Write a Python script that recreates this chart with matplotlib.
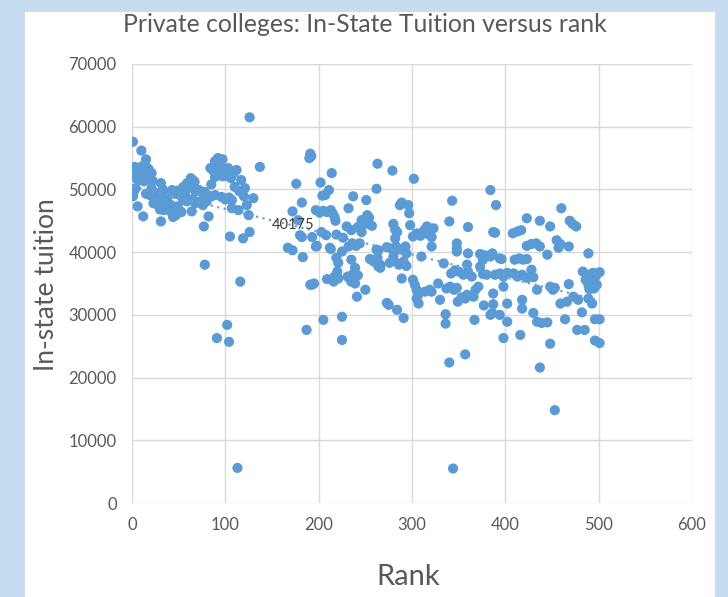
import numpy as np
import matplotlib.pyplot as plt
from matplotlib.patches import Rectangle

plt.rcParams['font.family'] = ['Lato', 'DejaVu Sans']

# Private colleges: rank vs in-state tuition
rank = [
    # rank 0-70
    1, 10, 15, 3, 7, 11, 14, 18, 21, 5, 9, 16, 5, 9, 13, 17, 22, 31,
    21, 1, 2, 4, 1, 15, 19, 24, 28, 30, 39, 43, 46, 49, 55, 59, 63, 66, 60,
    23, 27, 31, 35, 42, 45, 49, 55, 59, 63, 67, 6, 30, 34, 37,
    42, 46, 50, 53, 64, 12, 31, 44, 47, 26, 33, 38, 52, 57, 69,
    # rank 67-140
    89, 92, 95, 97, 84, 87, 90, 94, 99, 103, 112, 137, 89, 93, 97, 101,
    117, 121, 67, 85, 68, 72, 76, 78, 81, 85, 89, 96, 100, 104, 107, 130,
    68, 72, 76, 80, 107, 114, 125, 82, 77, 105, 119, 126, 78, 116,
    91, 102, 104, 113, 126, 106, 110, 115, 120, 123, 109,
    # rank 160-245
    176, 172, 178, 182, 180, 167, 172, 183, 191, 192, 190,
    191, 195, 187, 205, 209, 197, 202, 211, 207, 204, 214,
    197, 201, 205, 209, 213, 215, 217, 218, 203, 208, 213, 219,
    212, 198, 182, 193, 220, 221, 219, 217, 221, 216, 193, 225, 225, 226, 225,
    232, 230, 235, 232, 236, 240, 244, 237, 231, 236, 242, 235, 239, 234, 241,
    235, 239,
    # rank 240-300
    251, 263, 279, 262, 252, 242, 246, 250, 254, 257, 246, 262, 264,
    255, 259, 263, 266, 264, 266, 250, 280, 282, 284, 282,
    273, 278, 283, 287, 293, 280, 276, 281, 286, 291, 294,
    287, 289, 296, 297, 302, 289, 273, 275, 284, 291, 294, 298,
    # rank 300-405
    301, 305, 309, 313, 317, 321, 323, 316, 310, 321,
    301, 303, 305, 307, 314, 319, 321, 305, 307, 328, 330,
    334, 340, 343, 348, 348, 348, 342, 346, 350, 355, 360, 364,
    337, 341, 345, 348, 349, 353, 357, 359, 366, 368, 371,
    336, 336, 357, 340, 344, 359, 360, 360, 367,
    373, 378, 384, 386, 373, 376, 380, 376, 384, 390, 389, 387,
    389, 394, 398, 402, 394, 396, 377, 387, 386, 384, 394, 387,
    398, 398, 402, 402,
    # rank 405-502
    408, 413, 417, 423, 437, 448, 460, 469, 472, 476,
    423, 428, 433, 437, 455, 457, 459, 468, 445, 489,
    410, 415, 419, 423, 409, 413, 418, 423, 428, 430,
    434, 448, 451, 453, 468, 483, 488, 494, 497, 501,
    486, 489, 492, 495, 498, 490, 489, 493, 473, 478, 459, 466,
    418, 418, 430, 434, 439, 445, 464, 482, 496, 501,
    477, 485, 416, 448, 496, 501, 437, 453,
]

tuition = [
    # rank 0-70
    57600, 56200, 54800, 53600, 53300, 53700, 52800, 53200, 52600, 52500, 52900, 53500, 51700, 51500, 51300, 51800, 51400, 51000,
    50200, 50000, 49700, 50200, 48900, 49300, 49100, 49000, 49400, 49200, 49500, 49900, 49300, 49800, 50400, 51000, 51800, 51400, 50200,
    47800, 47600, 48100, 47700, 47500, 47000, 47300, 48300, 48100, 48400, 48200, 47300, 46800, 46700, 46900,
    46400, 46300, 46500, 46400, 46500, 45700, 44900, 45600, 45900, 48600, 50000, 48700, 49000, 49600, 49900,
    # rank 67-140
    54500, 55000, 54400, 54800, 53400, 53000, 53600, 53200, 52900, 53400, 53100, 53600, 52000, 52300, 52100, 52200,
    51500, 50200, 51200, 50800, 49700, 49900, 49300, 49600, 49000, 48900, 49100, 48800, 48400, 48700, 48300, 48600,
    47800, 48000, 47500, 48100, 47000, 46700, 45900, 45700, 44100, 42500, 42200, 43200, 38000, 35300,
    26300, 28400, 25700, 5600, 61500, 51800, 50400, 49700, 48900, 47500, 52600,
    # rank 160-245
    50900, 46500, 45100, 47900, 42700, 40700, 40300, 39200, 55700, 55300, 55000,
    34800, 35000, 27600, 29200, 35700, 40900, 51100, 49900, 49100, 49000, 52600,
    46700, 46300, 46600, 46400, 46700, 46200, 45600, 45000, 43200, 42700, 40500, 42800,
    40700, 41000, 42400, 42400, 36900, 38300, 39100, 36100, 35800, 35300, 34800, 29700, 26000, 42300, 40100,
    47000, 44100, 43500, 40900, 41400, 41000, 41400, 48900, 36100, 36400, 36300, 35300, 35000, 35600, 32900,
    38800, 37500,
    # rank 240-300
    48300, 54100, 53000, 50100, 45900, 44000, 45100, 44500, 45500, 44200, 43200, 40400, 40300,
    38900, 38500, 39100, 38000, 37700, 37500, 34000, 44500, 43600, 43200, 42200,
    40800, 40600, 40900, 40400, 40900, 39300, 38300, 38600, 38000, 38500, 37800,
    47500, 47900, 47500, 46200, 51700, 35800, 31900, 31600, 30800, 29500, 39800, 44300,
    # rank 300-405
    42500, 43000, 42600, 43500, 42900, 42400, 43800, 44100, 39300, 40900,
    35600, 34800, 34000, 33300, 33700, 34000, 33700, 32600, 31800, 35000, 32400,
    38200, 44900, 48200, 41400, 40600, 40100, 36600, 37100, 36900, 36400, 36900, 36100,
    34200, 34500, 34000, 34300, 32100, 32800, 32600, 33200, 32900, 34000, 34500,
    30100, 28600, 23700, 22400, 5500, 38000, 39800, 44000, 29200,
    39700, 39500, 39300, 39800, 37700, 36500, 36400, 38800, 49900, 47500, 43100, 43200,
    36400, 36600, 36100, 36700, 39000, 38900, 31500, 31700, 30300, 30000, 30000, 33400,
    34500, 26300, 31800, 28900,
    # rank 405-502
    43000, 43300, 43500, 45400, 45000, 44100, 47000, 45000, 44500, 44100,
    41000, 41300, 41400, 40900, 41900, 40700, 41300, 40900, 39600, 39800,
    38800, 39000, 38800, 38900, 36600, 36100, 36400, 35900, 37200, 36000,
    34000, 34500, 34000, 34300, 34900, 36900, 36400, 36700, 36200, 36800,
    35600, 34800, 35200, 34200, 34800, 34100, 32600, 31800, 32900, 32400, 31800, 32100,
    32400, 31000, 30300, 28900, 28700, 28800, 29300, 30400, 29300, 29300,
    27600, 27600, 26800, 25400, 25900, 25500, 21600, 14800,
]

x_ticks = [0, 100, 200, 300, 400, 500, 600]
y_ticks = [0, 10000, 20000, 30000, 40000, 50000, 60000, 70000]
trend_label = "40175"

BLUE = '#5b9bd5'
GREY = '#595959'

fig = plt.figure(figsize=(7.28, 5.97), dpi=100)
fig.patch.set_facecolor('#c6ddf1')
# white chart panel on top of the blue slide background
fig.patches.append(Rectangle((25 / 728, -0.05), 690 / 728, 1.05 - 12 / 597,
                             transform=fig.transFigure, facecolor='white',
                             edgecolor='none', zorder=-10))

ax = fig.add_axes([132 / 728, 1 - 503 / 597, 560 / 728, 439 / 597])
ax.set_facecolor('white')

ax.scatter(rank, tuition, s=54, color=BLUE, edgecolors='none', zorder=3)

# linear trendline (dotted, like Excel)
coef = np.polyfit(rank, tuition, 1)
xs = np.array([min(rank), max(rank)])
ax.plot(xs, np.polyval(coef, xs), linestyle=(0, (1, 2)), color='#6f9fd3',
        linewidth=1.6, zorder=4)
ax.text(150, 44300, trend_label, fontsize=10.5, color='#404040',
        va='center', ha='left', zorder=5)

ax.set_xlim(0, 600)
ax.set_ylim(0, 70000)
ax.set_xticks(x_ticks)
ax.set_yticks(y_ticks)
ax.grid(True, color='#d9d9d9', linewidth=1)
ax.set_axisbelow(True)
for s in ax.spines.values():
    s.set_visible(False)
ax.tick_params(length=0, labelsize=12, colors=GREY)
ax.tick_params(axis='y', pad=11)
ax.tick_params(axis='x', pad=10)

fig.text(365 / 728, 1 - 25 / 597, 'Private colleges: In-State Tuition versus rank',
         ha='center', va='center', fontsize=17.8, color=GREY)
fig.text(47 / 728, 1 - 285 / 597, 'In-state tuition', rotation=90,
         ha='center', va='center', fontsize=19, color=GREY)
fig.text(408 / 728, 1 - 577 / 597, 'Rank',
         ha='center', va='center', fontsize=21, color=GREY)

plt.savefig('out.png', dpi=100, facecolor=fig.get_facecolor())
